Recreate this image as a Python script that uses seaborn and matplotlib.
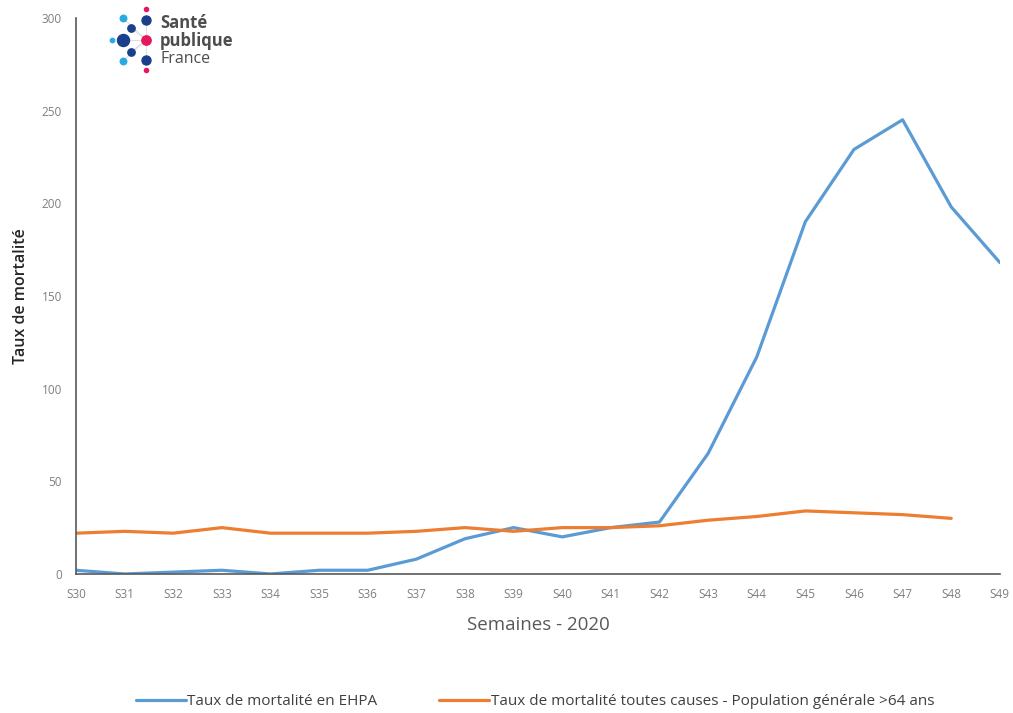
import numpy as np
import pandas as pd
import matplotlib
matplotlib.use("Agg")
import matplotlib.pyplot as plt
import seaborn as sns
from matplotlib.lines import Line2D

weeks = ["S30", "S31", "S32", "S33", "S34", "S35", "S36", "S37", "S38", "S39",
         "S40", "S41", "S42", "S43", "S44", "S45", "S46", "S47", "S48", "S49"]
ehpa = [2, 0, 1, 2, 0, 2, 2, 8, 19, 25, 20, 25, 28, 65, 117, 190, 229, 245, 198, 168]
general = [22, 23, 22, 25, 22, 22, 22, 23, 25, 23, 25, 25, 26, 29, 31, 34, 33, 32, 30, np.nan]
series_names = ["Taux de mortalité en EHPA",
                "Taux de mortalité toutes causes - Population générale >64 ans"]
colors = ["#5B9BD5", "#ED7D31"]

df = pd.concat([
    pd.DataFrame({"week": range(len(weeks)), "taux": ehpa, "serie": series_names[0]}),
    pd.DataFrame({"week": range(len(weeks)), "taux": general, "serie": series_names[1]}),
], ignore_index=True)

sns.set_theme(style="white")
plt.rcParams["font.family"] = ["Open Sans", "DejaVu Sans"]

fig = plt.figure(figsize=(10.13, 7.13), dpi=100)
ax = fig.add_axes([0.075, 0.195, 0.912, 0.780])

sns.lineplot(data=df, x="week", y="taux", hue="serie", palette=colors,
             linewidth=2.3, ax=ax, legend=False)

ax.set_xlim(0, len(weeks) - 1)
ax.set_ylim(0, 300)
ax.set_xticks(range(len(weeks)))
ax.set_xticklabels(weeks)
ax.set_yticks(range(0, 301, 50))

for side in ["top", "right"]:
    ax.spines[side].set_visible(False)
for side in ["left", "bottom"]:
    ax.spines[side].set_color("#595959")
    ax.spines[side].set_linewidth(1.2)

ax.tick_params(axis="both", which="major", direction="out", length=4, width=1,
               color="#595959", labelsize=8.5, labelcolor="#7f7f7f", pad=6)

ax.set_xlabel("Semaines - 2020", fontsize=13.5, color="#595959", labelpad=11)
ax.set_ylabel("Taux de mortalité", fontsize=11.5, fontweight="semibold",
              color="#262626", labelpad=9)

handles = [Line2D([0], [0], color=c, lw=2.3) for c in colors]
fig.legend(handles, series_names, loc="lower center", bbox_to_anchor=(0.528, -0.014),
           ncol=2, frameon=False, fontsize=11, handlelength=3.3,
           handletextpad=0.1, columnspacing=4.0, labelcolor="#404040")

# Santé publique France logo
W, H = 1013, 713
def px(x, y):
    return x / W, 1 - y / H

cx, cy = px(146, 40)
for (x, y) in [(123, 40), (131, 28), (131, 52), (146, 20), (146, 60), (123, 18), (123, 61)]:
    p = px(x, y)
    fig.add_artist(Line2D([p[0], cx], [p[1], cy], color="#d9d9d9", lw=0.6,
                          transform=fig.transFigure))
dots = [
    (123, 40, 75, "#1B3F8B"), (112, 40, 10, "#29ABE2"), (146, 40, 45, "#E5175E"),
    (146, 20, 42, "#1B3F8B"), (146, 60, 42, "#1B3F8B"),
    (131, 28, 28, "#1B3F8B"), (131, 52, 28, "#1B3F8B"),
    (123, 18, 22, "#29ABE2"), (123, 61, 22, "#29ABE2"),
    (146, 9, 9, "#E5175E"), (146, 70, 9, "#E5175E"),
]
for x, y, s, c in dots:
    p = px(x, y)
    fig.add_artist(Line2D([p[0]], [p[1]], marker="o", markersize=np.sqrt(s),
                          color=c, lw=0, transform=fig.transFigure))
tx = 160 / W
fig.text(tx, 1 - 23 / H, "Santé", fontsize=12, fontweight="bold", color="#4d4d4d", va="center")
fig.text(tx, 1 - 41 / H, "publique", fontsize=12, fontweight="bold", color="#4d4d4d", va="center")
fig.text(tx, 1 - 59 / H, "France", fontsize=11.5, color="#4d4d4d", va="center")

fig.savefig("out.png", dpi=100)
